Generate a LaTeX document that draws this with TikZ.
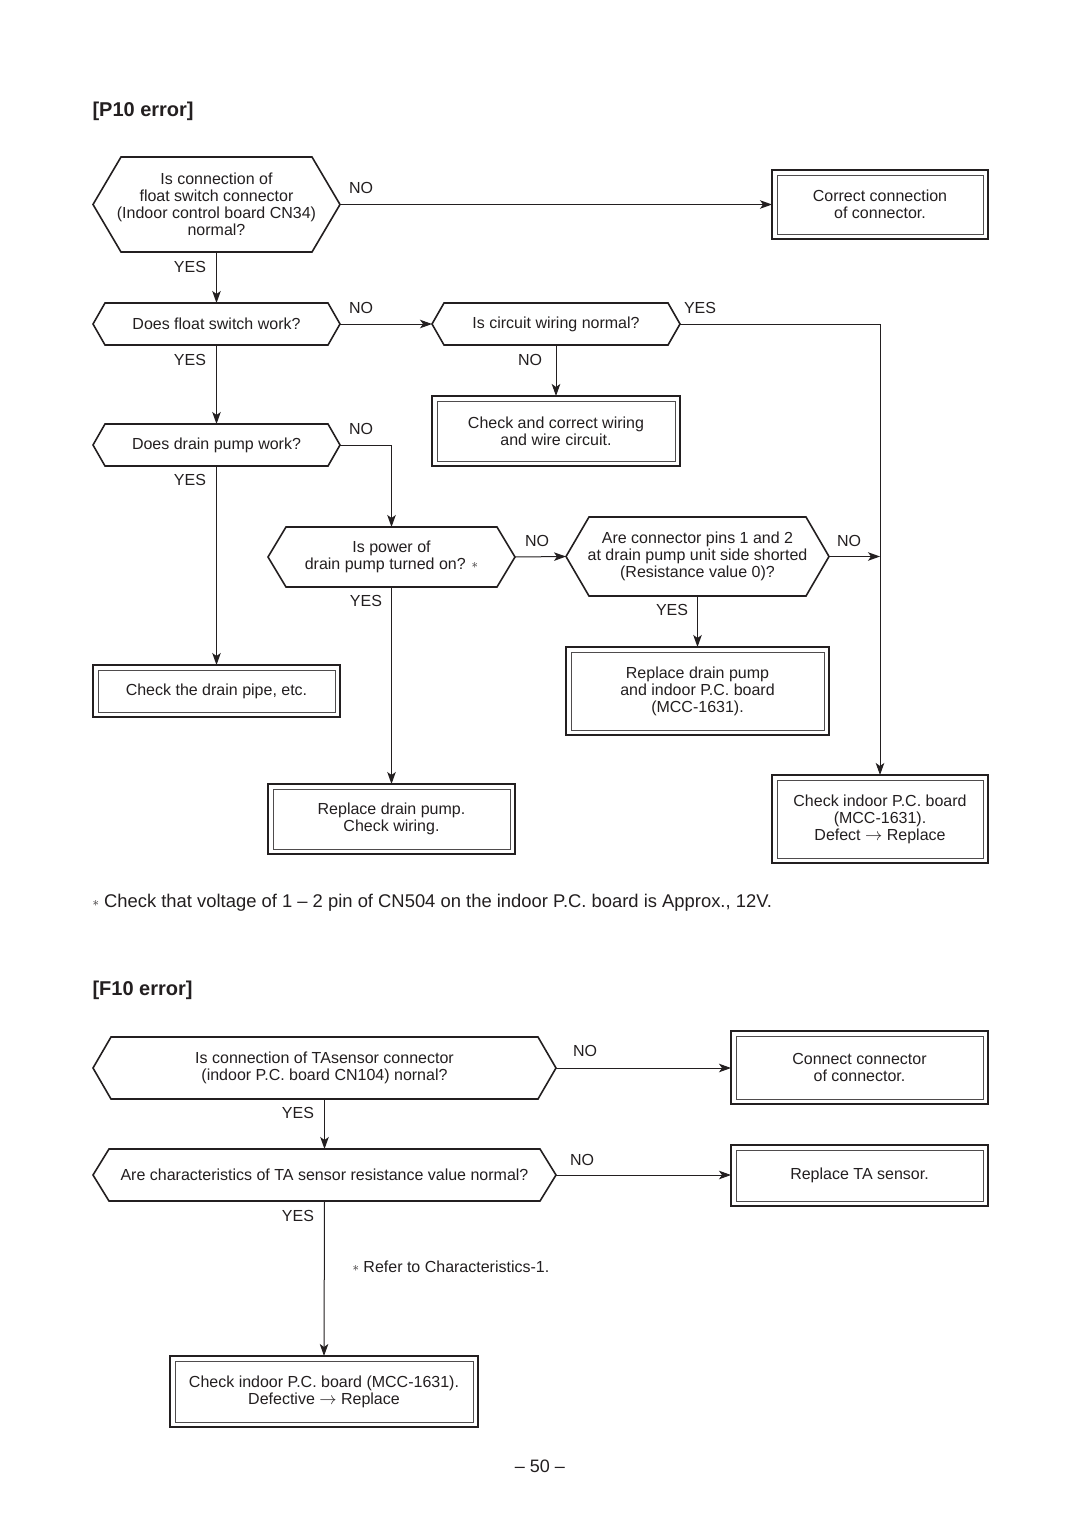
\documentclass[tikz,border=0pt]{standalone}
\usepackage{fontspec}
\setmainfont{Liberation Sans}
\usetikzlibrary{arrows.meta,calc}
\definecolor{ink}{HTML}{231F20}
\newcommand{\smallast}{\raisebox{0.15ex}{\scalebox{0.75}{$\ast$}}}
\newcommand{\rarr}{\mbox{$\rightarrow$}}
\newcommand{\hexdraw}[2]{%
  \draw[hexline] (#1.west) -- ([xshift=#2pt]#1.north west) -- ([xshift=-#2pt]#1.north east) -- (#1.east) -- ([xshift=-#2pt]#1.south east) -- ([xshift=#2pt]#1.south west) -- cycle;}
\begin{document}
\begin{tikzpicture}[x=1pt,y=-1pt,
  every node/.style={text=ink, font=\fontsize{16}{17}\selectfont},
  shapebox/.style={align=center, inner sep=0pt, outer sep=0pt},
  hexline/.style={draw=ink, line width=1.6pt, line join=miter},
  boxline/.style={draw=ink, line width=2.2pt},
  innerline/.style={draw=ink!80, line width=0.8pt},
  conn/.style={draw=ink, line width=1pt},
  arr/.style={conn, -{Stealth[length=12pt,width=8.5pt,inset=3pt]}},
  lab/.style={inner sep=0pt}]
\useasboundingbox[fill=white] (0,0) rectangle (1080,1528);

% ---------- P10 ----------
\node[anchor=west, font=\fontsize{20}{24}\selectfont\bfseries] (t1) at (89,111) {[P10 error]};

\node[shapebox, minimum width=247pt, minimum height=95pt] (h1) at (216.5,204.5)
  {Is connection of\\float switch connector\\(Indoor control board CN34)\\normal?};
\hexdraw{h1}{28}
\node[shapebox, boxline, minimum width=216pt, minimum height=69pt] (b1) at (880,204.5)
  {Correct connection\\of connector.};

\node[shapebox, minimum width=247pt, minimum height=42pt] (h2) at (216.5,324) {Does float switch work?};
\hexdraw{h2}{12}
\node[shapebox, minimum width=248pt, minimum height=42pt] (h3) at (556,324) {Is circuit wiring normal?};
\hexdraw{h3}{12}
\node[shapebox, boxline, minimum width=248pt, minimum height=70pt] (b2) at (556,431)
  {Check and correct wiring\\and wire circuit.};
\node[shapebox, minimum width=247pt, minimum height=42pt] (h4) at (216.5,445) {Does drain pump work?};
\hexdraw{h4}{12}
\node[shapebox, minimum width=247pt, minimum height=60pt] (h5) at (391.5,557)
  {Is power of\\drain pump turned on? \smallast};
\hexdraw{h5}{18}
\node[shapebox, minimum width=263pt, minimum height=79pt] (h6) at (697.5,556.5)
  {Are connector pins 1 and 2\\at drain pump unit side shorted\\(Resistance value 0)?};
\hexdraw{h6}{23}
\node[shapebox, boxline, minimum width=263pt, minimum height=88pt] (b3) at (697.5,691)
  {Replace drain pump\\and indoor P.C. board\\(MCC-1631).};
\node[shapebox, boxline, minimum width=247pt, minimum height=52pt] (b4) at (216.5,691)
  {Check the drain pipe, etc.};
\node[shapebox, boxline, minimum width=247pt, minimum height=70pt] (b5) at (391.5,819)
  {Replace drain pump.\\Check wiring.};
\node[shapebox, boxline, minimum width=216pt, minimum height=88pt] (b6) at (880,819)
  {Check indoor P.C. board\\(MCC-1631).\\Defect \rarr{} Replace};

% connectors P10
\draw[arr] (h1.east) -- (b1.west);
\draw[arr] (h1.south) -- (h2.north);
\draw[arr] (h2.east) -- (h3.west);
\draw[arr] (h3.east) -| (b6.north);
\draw[arr] (h3.south) -- (b2.north);
\draw[arr] (h2.south) -- (h4.north);
\draw[arr] (h4.east) -| (h5.north);
\draw[arr] (h4.south) -- (b4.north);
\draw[arr] (h5.east) -- (h6.west);
\coordinate (j1) at (h6.east -| b6.north);
\draw[arr] (h6.east) -- (j1);
\draw[arr] (h6.south) -- (b3.north);
\draw[arr] (h5.south) -- (b5.north);

% labels P10
\node[lab] (l1) at (361,188) {NO};
\node[lab] (l2) at (190,267) {YES};
\node[lab] (l3) at (361,308) {NO};
\node[lab] (l4) at (700,308) {YES};
\node[lab] (l5) at (530,360) {NO};
\node[lab] (l6) at (190,360) {YES};
\node[lab] (l7) at (361,429) {NO};
\node[lab] (l8) at (190,480) {YES};
\node[lab] (l9) at (537,541) {NO};
\node[lab] (l10) at (849,541) {NO};
\node[lab] (l11) at (672,610) {YES};
\node[lab] (l12) at (366,601) {YES};

\node[anchor=west, font=\fontsize{18.4}{21}\selectfont] (fn) at (89,903)
  {\smallast\ Check that voltage of 1 -- 2 pin of CN504 on the indoor P.C. board is Approx., 12V.};

% ---------- F10 ----------
\node[anchor=west, font=\fontsize{20}{24}\selectfont\bfseries] (t2) at (89,990) {[F10 error]};

\node[shapebox, minimum width=463pt, minimum height=62pt] (h7) at (324.5,1068)
  {Is connection of TAsensor connector\\(indoor P.C. board CN104) nornal?};
\hexdraw{h7}{18}
\node[shapebox, boxline, minimum width=257pt, minimum height=73pt] (b7) at (859.5,1067.5)
  {Connect connector\\of connector.};
\node[shapebox, minimum width=463pt, minimum height=52pt] (h8) at (324.5,1175)
  {Are characteristics of TA sensor resistance value normal?};
\hexdraw{h8}{16}
\node[shapebox, boxline, minimum width=257pt, minimum height=61pt] (b8) at (859.5,1175.5)
  {Replace TA sensor.};
\node[shapebox, boxline, minimum width=308pt, minimum height=71pt] (b9) at (324,1391.5)
  {Check indoor P.C. board (MCC-1631).\\Defective \rarr{} Replace};

\draw[arr] (h7.east) -- (h7.east -| b7.west);
\draw[arr] (h7.south) -- (h8.north);
\draw[arr] (h8.east) -- (h8.east -| b8.west);
\draw[arr] (h8.south) -- (b9.north);

\node[lab] (l13) at (585,1051) {NO};
\node[lab] (l14) at (298,1113) {YES};
\node[lab] (l15) at (582,1160) {NO};
\node[lab] (l16) at (298,1216) {YES};
\node[anchor=west] (ref) at (349,1267) {\smallast\ Refer to Characteristics-1.};

% inner frames of double boxes
\foreach \b in {b1,b2,b3,b4,b5,b6,b7,b8,b9}
  \draw[innerline] ([shift={(5,5)}]\b.north west) rectangle ([shift={(-5,-5)}]\b.south east);

\node[font=\fontsize{18}{20}\selectfont] (pg) at (540,1466) {-- 50 --};
\end{tikzpicture}
\end{document}
